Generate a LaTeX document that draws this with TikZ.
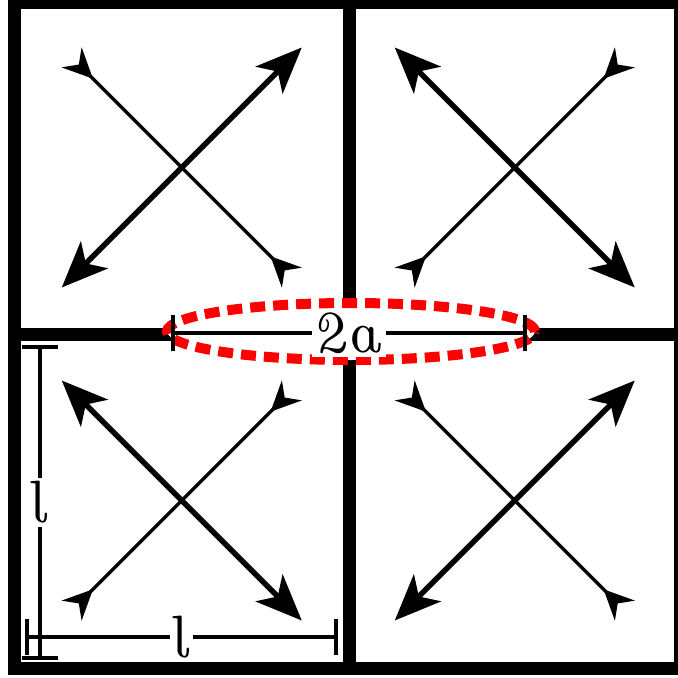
\documentclass[tikz,border=0pt]{standalone}
\usetikzlibrary{arrows.meta,calc}
\begin{document}
\begin{tikzpicture}[x=0.1mm,y=-0.1mm,
  wall/.style={line width=3.7pt},
  bigarrow/.style={line width=1.6pt,{Stealth[length=4.6mm,width=3.8mm,inset=1.2mm]}-{Stealth[length=4.6mm,width=3.8mm,inset=1.2mm]}},
  smallarrow/.style={line width=1.0pt,{Stealth[length=3.0mm,width=2.8mm,inset=1.0mm,reversed]}-{Stealth[length=3.0mm,width=2.8mm,inset=1.0mm,reversed]}},
  dimline/.style={line width=1.1pt,{Bar[width=3.6mm]}-{Bar[width=3.6mm]}},
  dimlabel/.style={fill=white,inner sep=1pt,font=\fontsize{17}{20}\fontshape{ui}\selectfont},
  gapring/.style={draw=red,fill=white,line width=2.85pt,dash pattern=on 1.5mm off 0.8mm}]
\useasboundingbox (0,0) rectangle (678,678);
% walls
\coordinate (o1) at (14.5,2.5);
\coordinate (o2) at (680.5,668.5);
\coordinate (vt) at (349,2.5);
\coordinate (vb) at (349,668.5);
\coordinate (hl) at (14.5,334);
\coordinate (hr) at (680.5,334);
\draw[wall] (o1) rectangle (o2);
\draw[wall] (vt) -- (vb);
\draw[wall] (hl) -- (hr);
% arrows in cells
\foreach \n/\cx/\cy/\s in {tl/181.75/167.5/1, tr/514.75/167.5/-1, bl/181.75/500.5/-1, br/514.75/500.5/1} {
  \coordinate (\n) at (\cx,\cy);
  \coordinate (\n-a1) at ($(\n)+(-120,120*\s)$);
  \coordinate (\n-a2) at ($(\n)+(120,-120*\s)$);
  \coordinate (\n-b1) at ($(\n)+(-110,-110*\s)$);
  \coordinate (\n-b2) at ($(\n)+(110,110*\s)$);
  \draw[bigarrow] (\n-a1) -- (\n-a2);
  \draw[smallarrow] (\n-b1) -- (\n-b2);
}
% red ellipse
\coordinate (gc) at (351,331.5);
\path[gapring] (gc) ellipse [x radius=18.4mm, y radius=2.85mm];
% dimension 2a
\coordinate (d1) at (171,333);
\coordinate (d2) at (527,333);
\draw[dimline] (d1) -- (d2);
\node[dimlabel] (lab2a) at ($(d1)!0.5!(d2)$) {2a};
% vertical l
\coordinate (v1) at (40,345);
\coordinate (v2) at (40,660);
\draw[dimline] (v1) -- (v2);
\node[dimlabel] (labv) at ($(v1)!0.5!(v2)$) {l};
% horizontal l
\coordinate (h1) at (25,637);
\coordinate (h2) at (338,637);
\draw[dimline] (h1) -- (h2);
\node[dimlabel] (labh) at ($(h1)!0.5!(h2)$) {l};
\end{tikzpicture}
\end{document}
